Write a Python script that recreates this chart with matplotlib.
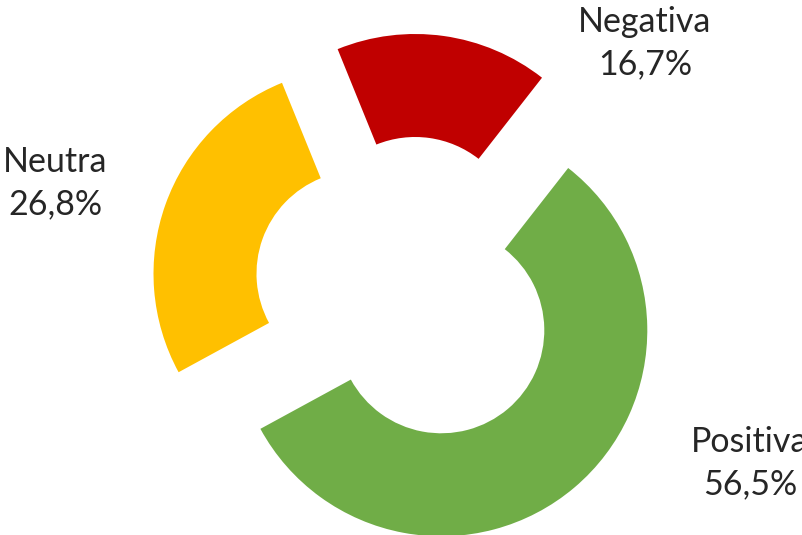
import matplotlib
matplotlib.use("Agg")
import matplotlib.pyplot as plt

categories = ["Negativa", "Positiva", "Neutra"]
values = [16.7, 56.5, 26.8]
value_labels = ["16,7%", "56,5%", "26,8%"]
colors = ["#C00000", "#70AD47", "#FFC000"]

W, H = 802, 535
fig = plt.figure(figsize=(W / 100, H / 100), dpi=100)
ax = fig.add_axes([0, 0, 1, 1])

R_PX = 206.0
CX, CY = 408.0, 291.0

ax.pie(values, colors=colors, startangle=112.1, counterclock=False,
       explode=[0.25] * len(values), radius=1.0,
       wedgeprops=dict(width=0.5, linewidth=0), frame=False)
ax.set_xlim(-CX / R_PX, (W - CX) / R_PX)
ax.set_ylim(-(H - CY) / R_PX, CY / R_PX)
ax.set_aspect("equal")
ax.axis("off")

def px(x, y):
    return (x - CX) / R_PX, (CY - y) / R_PX

label_pos = {"Negativa": (645, 43), "Neutra": (55, 183), "Positiva": (750, 463)}
for cat, vl in zip(categories, value_labels):
    x, y = px(*label_pos[cat])
    ax.text(x, y, f"{cat}\n{vl}", ha="center", va="center", fontsize=24.5,
            family=["Lato", "DejaVu Sans"], fontweight="normal", color="#262626",
            linespacing=1.38)

fig.savefig("out.png", dpi=100)
